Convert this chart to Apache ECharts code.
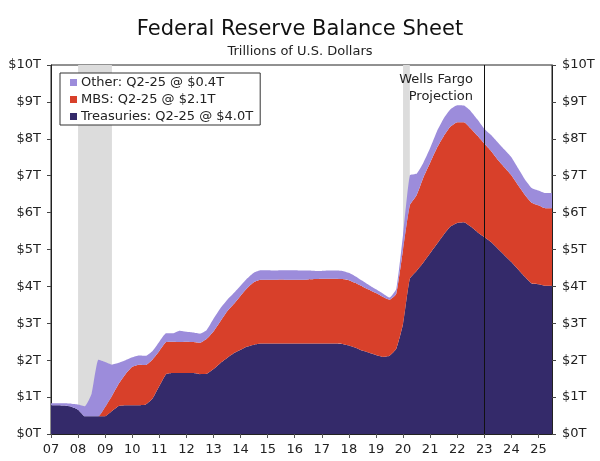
<!DOCTYPE html>
<html>
<head>
<meta charset="UTF-8">
<title>Federal Reserve Balance Sheet</title>
<script src="https://cdn.jsdelivr.net/npm/echarts@6/dist/echarts.min.js"></script>
<style>
html,body{margin:0;padding:0;background:#fff;}
#main{width:600px;height:461px;}
</style>
</head>
<body>
<div id="main"></div>
<script type="text/javascript">
// quarterly categories Q1-07 .. Q3-25
var quarters = [];
for (var y = 7; y <= 25; y++) {
	for (var q = 1; q <= 4; q++) {
		if (y == 25 && q > 3) break;
		quarters.push('Q' + q + '-' + (y < 10 ? '0' + y : '' + y));
	}
}

// trillions of dollars
var treasuries = [0.78,0.78,0.77,0.74,0.66,0.48,0.48,0.48,0.48,0.62,0.76,0.78,0.78,0.78,0.80,0.96,
	1.30,1.62,1.65,1.65,1.65,1.65,1.62,1.63,1.76,1.92,2.06,2.19,2.28,2.37,2.42,2.45,
	2.45,2.45,2.45,2.45,2.45,2.45,2.45,2.45,2.45,2.45,2.45,2.44,2.40,2.34,2.26,2.20,
	2.14,2.09,2.12,2.31,2.99,4.21,4.42,4.65,4.90,5.15,5.40,5.62,5.72,5.74,5.62,5.47,
	5.34,5.20,5.02,4.84,4.66,4.46,4.26,4.08,4.06,4.02,4.02];
var mbs = [0,0,0,0,0,0,0,0,0.25,0.41,0.60,0.84,1.04,1.10,1.07,1.06,
	0.95,0.87,0.85,0.84,0.85,0.84,0.85,0.95,1.02,1.13,1.26,1.33,1.47,1.59,1.70,1.73,
	1.73,1.73,1.74,1.73,1.73,1.73,1.74,1.75,1.76,1.76,1.76,1.76,1.77,1.75,1.74,1.71,
	1.68,1.63,1.52,1.49,2.01,1.99,2.05,2.30,2.45,2.60,2.67,2.71,2.73,2.71,2.66,2.61,
	2.53,2.47,2.41,2.38,2.35,2.28,2.22,2.19,2.14,2.10,2.10];
var other = [0.05,0.05,0.06,0.08,0.14,0.27,0.61,1.53,1.22,0.85,0.57,0.38,0.26,0.25,0.25,0.23,
	0.25,0.24,0.23,0.31,0.27,0.26,0.25,0.24,0.34,0.35,0.31,0.30,0.27,0.26,0.26,0.26,
	0.26,0.25,0.25,0.26,0.26,0.25,0.24,0.22,0.21,0.22,0.22,0.22,0.20,0.18,0.15,0.12,
	0.10,0.09,0.06,0.13,0.40,0.81,0.58,0.40,0.40,0.45,0.48,0.47,0.46,0.45,0.47,0.44,
	0.40,0.43,0.47,0.48,0.49,0.46,0.42,0.40,0.40,0.41,0.41];

var seriesNames = ['Treasuries: Q2-25 @ $4.0T', 'MBS: Q2-25 @ $2.1T', 'Other: Q2-25 @ $0.4T'];
var seriesColors = ['#342a6a', '#d8402a', '#9c8cdb'];
var recessions = [['Q1-08', 'Q2-09'], ['Q1-20', 'Q2-20']];
var projectionStart = 'Q1-23';
var projectionText = ['Wells Fargo', 'Projection'];
var yTicks = [0,1,2,3,4,5,6,7,8,9,10];

var FONT = 'DejaVu Sans';

var myChart = echarts.init(document.getElementById('main'));

function layer(i, values) {
	return {
		name: seriesNames[i],
		type: 'line',
		stack: 'total',
		z: 2,
		symbol: 'none',
		smooth: 0.15,
		lineStyle: {width: 0},
		itemStyle: {color: seriesColors[i]},
		areaStyle: {color: seriesColors[i], opacity: 1},
		emphasis: {disabled: true},
		data: values
	};
}

var yAxisBase = function(pos) {
	return {
		type: 'value',
		position: pos,
		min: yTicks[0],
		max: yTicks[yTicks.length - 1],
		interval: 1,
		axisLine: {show: true, lineStyle: {color: '#222'}},
		axisTick: {show: true, length: 4, lineStyle: {color: '#444'}},
		splitLine: {show: false},
		axisLabel: {
			margin: 10,
			color: '#222',
			fontFamily: FONT,
			fontSize: 13,
			formatter: function(v) { return '$' + v + 'T'; }
		}
	};
};

var option = {
	animation: false,
	title: {
		text: 'Federal Reserve Balance Sheet',
		subtext: 'Trillions of U.S. Dollars',
		left: 'center',
		top: 14,
		itemGap: 5,
		textStyle: {fontFamily: FONT, fontSize: 21, fontWeight: 'normal', color: '#111'},
		subtextStyle: {fontFamily: FONT, fontSize: 13, color: '#222'}
	},
	legend: {
		data: [seriesNames[2], seriesNames[1], seriesNames[0]],
		orient: 'vertical',
		left: 60,
		top: 73,
		icon: 'rect',
		itemWidth: 7,
		itemHeight: 7,
		itemGap: 4,
		padding: [3, 7, 2, 10],
		borderColor: '#333',
		borderWidth: 1,
		backgroundColor: '#fff',
		selectedMode: false,
		textStyle: {fontFamily: FONT, fontSize: 13, color: '#222', lineHeight: 13, padding: [0, 0, 0, -1]}
	},
	grid: {
		left: 51,
		right: 48,
		top: 65,
		bottom: 27,
		show: true,
		borderColor: '#222',
		borderWidth: 1,
		backgroundColor: 'transparent'
	},
	graphic: projectionText.map(function(t, i) {
		return {
			type: 'text',
			x: 473,
			y: 73 + i * 17,
			z: 20,
			style: {
				text: t,
				align: 'right',
				verticalAlign: 'top',
				fontFamily: FONT,
				fontSize: 13,
				fill: '#222'
			}
		};
	}),
	xAxis: {
		type: 'category',
		data: quarters,
		boundaryGap: false,
		axisLine: {show: true, lineStyle: {color: '#222'}},
		axisTick: {show: true, interval: 3, length: 4, lineStyle: {color: '#555'}},
		axisLabel: {
			interval: 3,
			margin: 9,
			color: '#222',
			fontFamily: FONT,
			fontSize: 13,
			formatter: function(v) { return v.slice(3); }
		},
		splitLine: {show: false}
	},
	yAxis: [yAxisBase('left'), yAxisBase('right')],
	series: [
		{
			type: 'line',
			z: 1,
			data: [],
			silent: true,
			markArea: {
				silent: true,
				itemStyle: {color: '#dcdcdc'},
				data: recessions.map(function(r) { return [{xAxis: r[0]}, {xAxis: r[1]}]; })
			}
		},
		layer(0, treasuries),
		layer(1, mbs),
		layer(2, other),
		{
			type: 'line',
			z: 10,
			data: [],
			silent: true,
			markLine: {
				silent: true,
				symbol: ['none', 'none'],
				label: {show: false},
				lineStyle: {color: '#111', width: 1, type: 'solid'},
				data: [{xAxis: projectionStart}]
			}
		}
	]
};
myChart.setOption(option);
</script>
</body>
</html>
